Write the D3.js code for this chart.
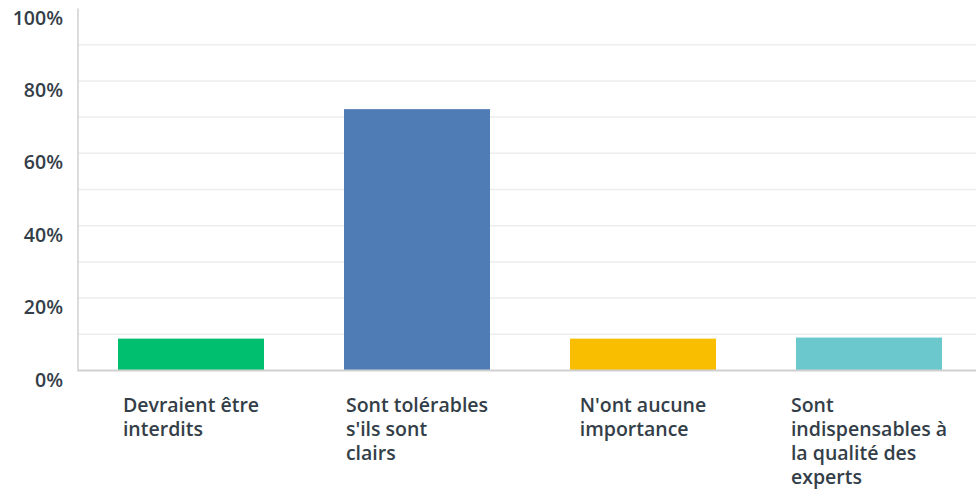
<!DOCTYPE html>
<html>
<head>
<meta charset="utf-8">
<script src="https://cdn.jsdelivr.net/npm/d3@7"></script>
<style>
  html, body { margin: 0; padding: 0; background: #fff; }
  svg { display: block; }
  text { font-family: "Open Sans", sans-serif; font-weight: 600; fill: #333e48; }
</style>
</head>
<body>
<svg id="chart" width="976" height="489"></svg>
<script>
// Answer categories, with the line breaks used under each bar
const categories = [
  "Devraient être interdits",
  "Sont tolérables s'ils sont clairs",
  "N'ont aucune importance",
  "Sont indispensables à la qualité des experts"
];
const categoryLines = [
  ["Devraient être", "interdits"],
  ["Sont tolérables", "s'ils sont", "clairs"],
  ["N'ont aucune", "importance"],
  ["Sont", "indispensables à", "la qualité des", "experts"]
];
// Share of respondents (%)
const values = [8.8, 72.2, 8.8, 9.1];
const colors = ["#00bf6f", "#507cb6", "#f9be00", "#6bc8cd"];
const yTicks = [0, 20, 40, 60, 80, 100];
const gridTicks = [10, 20, 30, 40, 50, 60, 70, 80, 90];

const svg = d3.select("#chart");
const plotLeft = 78, plotRight = 982, plotTop = 8.5, plotBottom = 370.5;

const x = d3.scaleBand()
  .domain(categories)
  .range([plotLeft, plotRight])
  .paddingInner(0.354)
  .paddingOuter(0.177);

const y = d3.scaleLinear().domain([0, 100]).range([plotBottom, plotTop]);

// horizontal gridlines
svg.append("g")
  .selectAll("line")
  .data(gridTicks)
  .join("line")
  .attr("x1", plotLeft).attr("x2", 976)
  .attr("y1", d => y(d)).attr("y2", d => y(d))
  .attr("stroke", "#ededed")
  .attr("stroke-width", 1.5);

// bars
svg.append("g")
  .selectAll("rect")
  .data(values)
  .join("rect")
  .attr("x", (d, i) => x(categories[i]))
  .attr("width", x.bandwidth())
  .attr("y", d => y(d))
  .attr("height", d => y(0) - y(d))
  .attr("fill", (d, i) => colors[i]);

// y axis line and baseline
svg.append("line")
  .attr("x1", plotLeft).attr("x2", plotLeft)
  .attr("y1", plotTop).attr("y2", plotBottom + 1)
  .attr("stroke", "#d0d0d0").attr("stroke-width", 1.5);
svg.append("line")
  .attr("x1", plotLeft).attr("x2", 976)
  .attr("y1", plotBottom).attr("y2", plotBottom)
  .attr("stroke", "#d0d0d0").attr("stroke-width", 2);

// y tick labels
svg.append("g")
  .selectAll("text")
  .data(yTicks)
  .join("text")
  .attr("x", 63)
  .attr("y", d => y(d) + 16)
  .attr("text-anchor", "end")
  .attr("font-size", 19.5)
  .text(d => d + "%");

// category labels: lines left-aligned, block centred under the bar
const labels = svg.append("g")
  .selectAll("text")
  .data(categories)
  .join("text")
  .attr("font-size", 19.5)
  .attr("y", 412);

labels.each(function(c, i) {
  const t = d3.select(this);
  categoryLines[i].forEach((line, k) => {
    t.append("tspan").attr("dy", k === 0 ? 0 : 24).text(line);
  });
  let maxW = 0;
  t.selectAll("tspan").each(function() {
    maxW = Math.max(maxW, this.getComputedTextLength());
  });
  const cx = x(c) + x.bandwidth() / 2;
  t.selectAll("tspan").attr("x", cx - maxW / 2);
});
</script>
</body>
</html>
